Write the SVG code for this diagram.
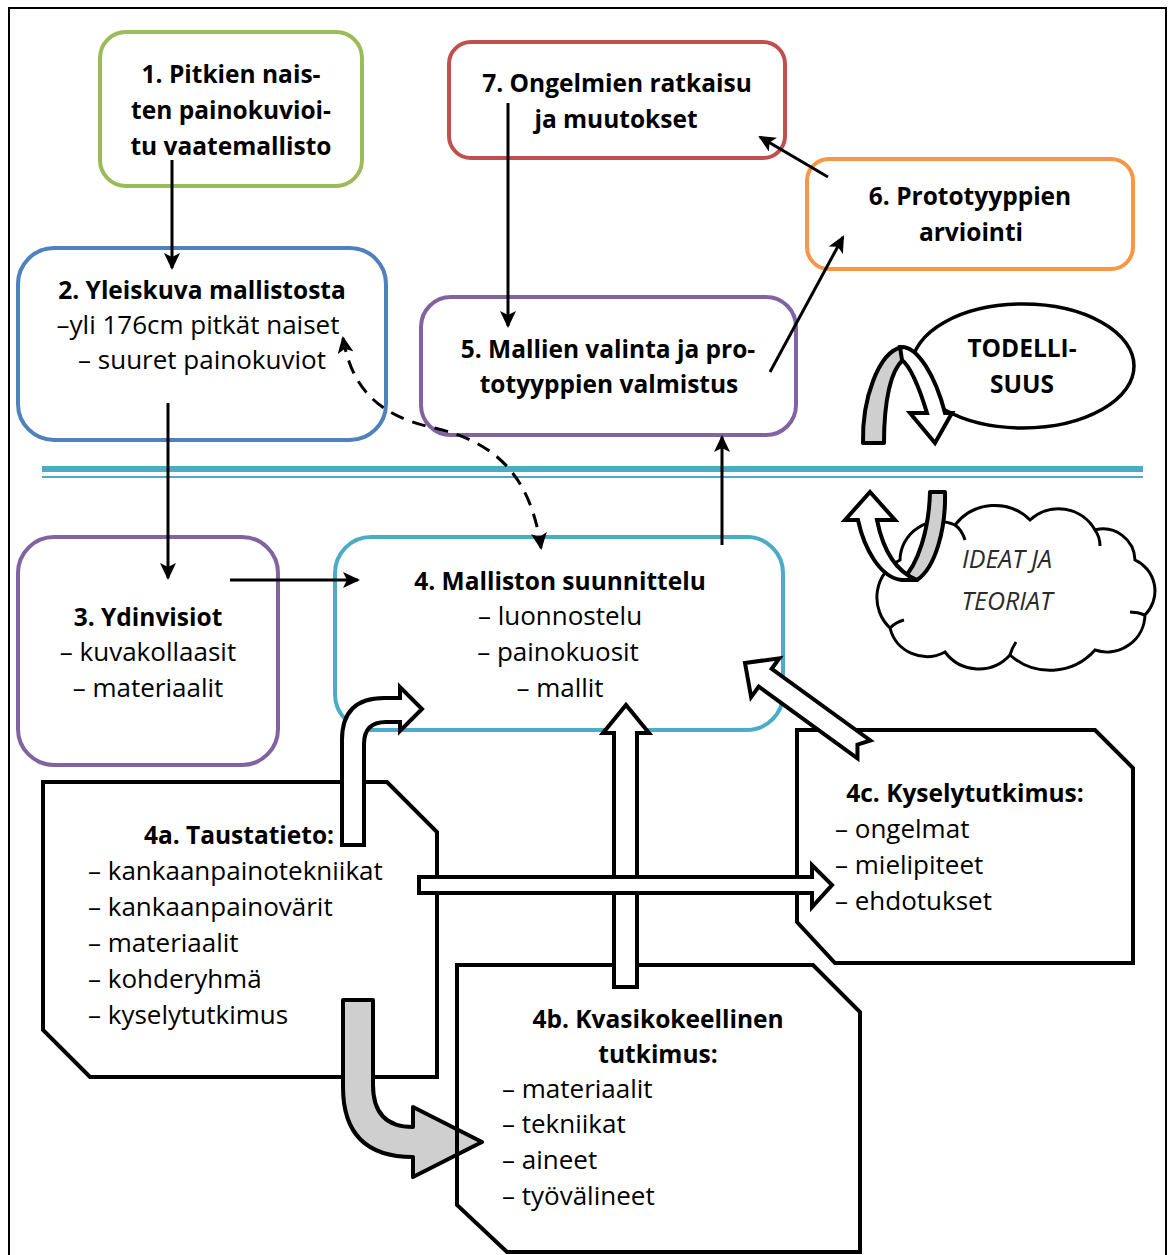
<svg xmlns="http://www.w3.org/2000/svg" width="1173" height="1255" viewBox="0 0 1173 1255">
<defs>
<style>
.t{font-family:"Open Sans","Liberation Sans",sans-serif;font-size:26px;fill:#000}
.b{font-weight:bold;font-size:24.5px}
.m{text-anchor:middle}
.box{fill:#fff;stroke-width:4}
.oct{stroke:#000;stroke-width:4;stroke-linejoin:miter}
.blk{fill:#fff;stroke:#000;stroke-width:4;stroke-linejoin:miter}
.gry{fill:#cfcfcf;stroke:#000;stroke-width:4;stroke-linejoin:round}
.ln{stroke:#000;stroke-width:3;fill:none;marker-end:url(#ah)}
.it{font-family:"Open Sans","Liberation Sans",sans-serif;font-size:25px;font-style:italic;fill:#2a2a2a;text-anchor:middle}
</style>
<marker id="ah" markerWidth="18" markerHeight="16" refX="15" refY="8" orient="auto-start-reverse" markerUnits="userSpaceOnUse">
<path d="M0,0 L17,8 L0,16 L4,8 z" fill="#000"/>
</marker>
</defs>
<rect x="9" y="8" width="1157" height="1265" fill="#fff" stroke="#000" stroke-width="2"/>

<g id="separator">
<line x1="42" y1="469" x2="1143" y2="469" stroke="#4BACC6" stroke-width="6"/>
<line x1="42" y1="477" x2="1143" y2="477" stroke="#4BACC6" stroke-width="2"/>
</g>

<g id="n1">
<rect class="box" x="100" y="32" width="262" height="154" rx="26" stroke="#9BBB59"/>
<text class="t b m" x="231" y="83">1. Pitkien nais-</text>
<text class="t b m" x="231" y="119">ten painokuvioi-</text>
<text class="t b m" x="231" y="155">tu vaatemallisto</text>
</g>

<g id="n2">
<rect class="box" x="18" y="248" width="368" height="192" rx="36" stroke="#4F81BD"/>
<text class="t b m" x="202" y="299">2. Yleiskuva mallistosta</text>
<text class="t m" x="198" y="334">–yli 176cm pitkät naiset</text>
<text class="t m" x="202" y="369">– suuret painokuviot</text>
</g>

<g id="n3">
<rect class="box" x="18" y="537" width="260" height="228" rx="36" stroke="#8064A2"/>
<text class="t b m" x="148" y="626">3. Ydinvisiot</text>
<text class="t m" x="148" y="661">– kuvakollaasit</text>
<text class="t m" x="148" y="697">– materiaalit</text>
</g>

<g id="n4">
<rect class="box" x="335" y="537" width="448" height="193" rx="36" stroke="#4BACC6"/>
<text class="t b m" x="560" y="590">4. Malliston suunnittelu</text>
<text class="t m" x="560" y="625">– luonnostelu</text>
<text class="t m" x="558" y="661">– painokuosit</text>
<text class="t m" x="560" y="697">– mallit</text>
</g>

<g id="n5">
<rect class="box" x="421" y="297" width="375" height="138" rx="30" stroke="#8064A2"/>
<text class="t b m" x="608" y="358">5. Mallien valinta ja pro-</text>
<text class="t b m" x="609" y="393">totyyppien valmistus</text>
</g>

<g id="n6">
<rect class="box" x="807" y="159" width="326" height="110" rx="22" stroke="#F79646"/>
<text class="t b m" x="970" y="205">6. Prototyyppien</text>
<text class="t b m" x="971" y="241">arviointi</text>
</g>

<g id="n7">
<rect class="box" x="449" y="42" width="336" height="116" rx="22" stroke="#C0504D"/>
<text class="t b m" x="617" y="92">7. Ongelmien ratkaisu</text>
<text class="t b m" x="616" y="128">ja muutokset</text>
</g>

<g id="todellisuus">
<ellipse cx="1023" cy="366" rx="111" ry="62" fill="#fff" stroke="#000" stroke-width="3.5"/>
<text class="t b m" x="1022" y="357">TODELLI-</text>
<text class="t b m" x="1022" y="393">SUUS</text>
</g>

<g id="ideat">
<path d="M900,560 A39,39 0 0 1 955,525 A50,50 0 0 1 1030,520 A42,42 0 0 1 1095,530 A32,32 0 0 1 1135,560 A34,34 0 0 1 1145,615 A38,38 0 0 1 1095,650 A60,60 0 0 1 1010,655 A42,42 0 0 1 945,652 A38,38 0 0 1 890,628 A42,42 0 0 1 900,560 Z" fill="#fff" stroke="#000" stroke-width="3"/>
<path d="M955,525 Q962,530 965,540 M1095,530 Q1100,537 1100,546 M1145,615 Q1138,612 1130,612 M1010,655 Q1012,648 1016,642 M890,628 Q896,622 904,620" fill="none" stroke="#000" stroke-width="3"/>
<text class="it" x="1007" y="568">IDEAT JA</text>
<text class="it" x="1007" y="610">TEORIAT</text>
</g>

<g id="n4a">
<polygon class="oct" fill="#fff" points="43,782 387,782 437,832 437,1077 90,1077 43,1030"/>
<text class="t b m" x="239" y="844">4a. Taustatieto:</text>
<text class="t" x="88" y="880">– kankaanpainotekniikat</text>
<text class="t" x="88" y="916">– kankaanpainovärit</text>
<text class="t" x="88" y="952">– materiaalit</text>
<text class="t" x="88" y="988">– kohderyhmä</text>
<text class="t" x="88" y="1024">– kyselytutkimus</text>
</g>

<g id="n4c">
<polygon class="oct" fill="#fff" points="797,730 1095,730 1133,768 1133,963 835,963 797,922"/>
<text class="t b m" x="965" y="802">4c. Kyselytutkimus:</text>
<text class="t" x="835" y="838">– ongelmat</text>
<text class="t" x="835" y="874">– mielipiteet</text>
<text class="t" x="835" y="910">– ehdotukset</text>
</g>

<g id="connectors">
<line class="ln" x1="172" y1="160" x2="172" y2="268"/>
<line class="ln" x1="168" y1="403" x2="168" y2="578"/>
<line class="ln" x1="230" y1="580" x2="358" y2="580"/>
<line class="ln" x1="722" y1="545" x2="722" y2="437"/>
<line class="ln" x1="508" y1="103" x2="508" y2="326"/>
<line class="ln" x1="770" y1="372" x2="843" y2="237"/>
<line class="ln" x1="828" y1="177" x2="760" y2="137"/>
<path class="ln" d="M343,338 C352,390 380,415 430,427 C490,440 530,470 541,548" stroke-dasharray="14 9" style="marker-start:url(#ah)"/>

<path class="gry" d="M863,443 C862,400 878,352 902,347 L903,360 C891,370 884,400 884,443 Z"/>
<path class="blk" stroke-width="3.5" stroke-linejoin="round" d="M900,347 C918,345 936,378 945,413 L952,413 L935,443 L910,413 L927,413 C920,390 912,368 902,360 Z"/>
<path class="gry" d="M930,492 L945,492 C946,530 935,568 917,580 L902,580 C918,565 929,530 930,492 Z"/>
<path class="blk" stroke-width="3.5" stroke-linejoin="round" d="M902,580 C880,578 864,548 858,520 L845,520 L870,492 L895,520 L877,520 C882,545 892,570 917,580 Z"/>

<path class="gry" stroke-linejoin="miter" d="M343,1000 L373,1000 L373,1085 Q373,1127 413,1127 L413,1107 L482,1142 L413,1177 L413,1157 Q343,1157 343,1087 Z"/>
</g>

<g id="n4b">
<polygon class="oct" fill="none" points="457,965 813,965 860,1012 860,1252 507,1252 457,1205"/>
<text class="t b m" x="658" y="1028">4b. Kvasikokeellinen</text>
<text class="t b m" x="658" y="1063">tutkimus:</text>
<text class="t" x="502" y="1098">– materiaalit</text>
<text class="t" x="502" y="1133">– tekniikat</text>
<text class="t" x="502" y="1169">– aineet</text>
<text class="t" x="502" y="1205">– työvälineet</text>
</g>

<g id="block-arrows">
<path class="blk" d="M614,987 L614,733 L603,733 L626,705 L649,733 L637,733 L637,987 Z"/>
<path class="blk" d="M419,877 L812,877 L812,865 L832,885 L812,907 L812,893 L419,893 Z"/>
<path class="blk" d="M342,845 L342,740 Q342,698 384,698 L400,698 L400,687 L422,709 L400,731 L400,722 L386,722 Q364,722 364,744 L364,845 Z"/>
<polygon class="blk" transform="translate(745,663) rotate(36)" points="0,0 25,-24 25,-11 147,-11 139,0 147,11 25,11 25,24"/>
</g>
</svg>
